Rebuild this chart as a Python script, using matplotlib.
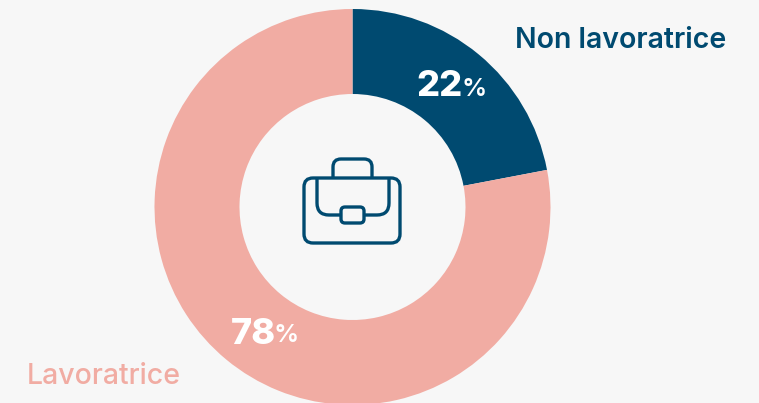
import matplotlib
matplotlib.use('Agg')
import matplotlib.pyplot as plt
from matplotlib.patches import FancyBboxPatch, PathPatch
from matplotlib.path import Path

labels = ['Non lavoratrice', 'Lavoratrice']
values = [22, 78]
colors = ['#004a70', '#f1aca3']
bg = '#f7f7f7'
navy = '#004a70'

W, H = 759, 403
fig = plt.figure(figsize=(W / 100, H / 100), dpi=100, facecolor=bg)
ax = fig.add_axes([0, 0, 1, 1])
ax.set_facecolor(bg)

cx, cy = 352.5, H - 207
ax.pie(values, colors=colors, startangle=90, counterclock=False, center=(cx, cy), radius=198,
       wedgeprops={'width': 85, 'linewidth': 0}, frame=True)
ax.set_xlim(0, W)
ax.set_ylim(0, H)
ax.axis('off')


def box(x0, y0, x1, y1, r):
    # y values are given from the top of the image
    p = FancyBboxPatch((x0 + r, H - y1 + r), x1 - x0 - 2 * r, y1 - y0 - 2 * r,
                       boxstyle=f'round,pad={r},rounding_size={r}',
                       fc='none', ec=navy, lw=2.4, zorder=5)
    ax.add_patch(p)


def line(verts, codes):
    ax.add_patch(PathPatch(Path([(x, H - y) for x, y in verts], codes), fc='none', ec=navy, lw=2.4, zorder=5))


# briefcase icon
box(304, 178, 400, 243, 9)
box(341, 207, 364, 223, 4)

M, L, C = Path.MOVETO, Path.LINETO, Path.CURVE3
line([(333, 178), (333, 167), (333, 159), (341, 159), (364, 159), (372, 159), (372, 167), (372, 178)],
     [M, L, C, C, L, C, C, L])
line([(317, 178), (317, 203), (317, 215), (329, 215), (341, 215)], [M, L, C, C, L])
line([(389, 178), (389, 203), (389, 215), (377, 215), (364, 215)], [M, L, C, C, L])

# labels
ax.text(726, H - 41, labels[0], ha='right', va='center', color=colors[0],
        fontsize=20.5, fontweight='semibold', family='Inter')
ax.text(27, H - 376, labels[1], ha='left', va='center', color=colors[1],
        fontsize=20.5, fontweight='medium', family='Inter')

ax.text(416, H - 87, f'{values[0]}', ha='left', va='center', color='white',
        fontsize=26, fontweight='heavy', family='Inter')
ax.text(461, H - 89, '%', ha='left', va='center', color='white',
        fontsize=18, fontweight='semibold', family='Inter')
ax.text(231, H - 334, f'{values[1]}', ha='left', va='center', color='white',
        fontsize=26, fontweight='heavy', family='Inter')
ax.text(274, H - 336, '%', ha='left', va='center', color='white',
        fontsize=18, fontweight='semibold', family='Inter')

fig.savefig('out.png', dpi=100, facecolor=bg)
